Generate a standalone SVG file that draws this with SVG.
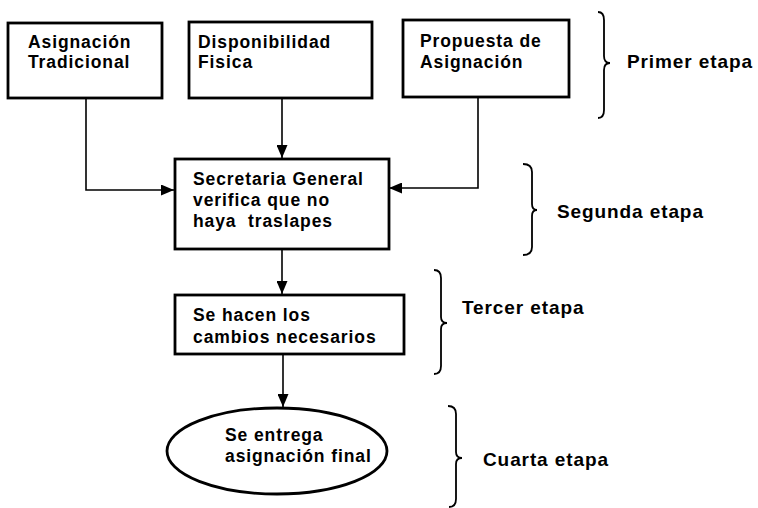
<svg xmlns="http://www.w3.org/2000/svg" width="758" height="508" viewBox="0 0 758 508">
<style>
.box{fill:#fff;stroke:#000;stroke-width:2.8}
.t{font-family:"Liberation Sans",Arial,sans-serif;font-weight:bold;font-size:17.5px;letter-spacing:0.9px;fill:#000}
.lbl{font-family:"Liberation Sans",Arial,sans-serif;font-weight:bold;font-size:19px;letter-spacing:0.9px;fill:#000}
.c{fill:none;stroke:#000;stroke-width:1.6}
.br{fill:none;stroke:#000;stroke-width:1.8}
</style>
<defs>
<marker id="ah" viewBox="0 0 13 11" refX="13" refY="5.5" markerWidth="13" markerHeight="11" markerUnits="userSpaceOnUse" orient="auto">
<path d="M0,0 L13,5.5 L0,11 Z" fill="#000"/>
</marker>
</defs>
<rect width="758" height="508" fill="#fff"/>
<g id="connectors">
<path class="c" d="M86,98 V190 H174" marker-end="url(#ah)"/>
<path class="c" d="M282,98 V158" marker-end="url(#ah)"/>
<path class="c" d="M478,97 V188 H389" marker-end="url(#ah)"/>
<path class="c" d="M282,249 V294" marker-end="url(#ah)"/>
<path class="c" d="M283,354 V407" marker-end="url(#ah)"/>
</g>
<g id="n1"><rect class="box" x="8" y="23" width="154" height="75"/>
<text class="t" x="28" y="48">Asignación</text><text class="t" x="28" y="68">Tradicional</text></g>
<g id="n2"><rect class="box" x="189" y="22" width="183" height="76"/>
<text class="t" x="198" y="48">Disponibilidad</text><text class="t" x="198" y="68">Fisica</text></g>
<g id="n3"><rect class="box" x="403" y="20" width="166" height="77"/>
<text class="t" x="420" y="47">Propuesta de</text><text class="t" x="420" y="68">Asignación</text></g>
<g id="n4"><rect class="box" x="175" y="159" width="214" height="90"/>
<text class="t" x="193" y="185">Secretaria General</text><text class="t" x="193" y="206">verifica que no</text><text class="t" x="193" y="227" xml:space="preserve">haya  traslapes</text></g>
<g id="n5"><rect class="box" x="175" y="295" width="229" height="59"/>
<text class="t" x="193" y="321">Se hacen los</text><text class="t" x="193" y="343">cambios necesarios</text></g>
<g id="n6"><ellipse class="box" cx="277" cy="451" rx="110" ry="43"/>
<text class="t" x="225" y="441">Se entrega</text><text class="t" x="225" y="462">asignación final</text></g>
<g id="stages">
<path class="br" d="M598,12 Q604,12 604,20 L604,56 Q604,63 610,63 Q604,63 604,70 L604,110 Q604,118 598,118"/>
<text class="lbl" x="627" y="68">Primer etapa</text>
<path class="br" d="M523,164 Q532,164 532,172 L532,204 Q532,210 537,210 Q532,210 532,216 L532,247 Q532,255 523,255"/>
<text class="lbl" x="557" y="218">Segunda etapa</text>
<path class="br" d="M434,270 Q441,270 441,278 L441,317 Q441,323 447,323 Q441,323 441,329 L441,366 Q441,374 434,374"/>
<text class="lbl" x="462" y="314">Tercer etapa</text>
<path class="br" d="M448,406 Q456,406 456,414 L456,452 Q456,458 462,458 Q456,458 456,464 L456,499 Q456,507 449,507"/>
<text class="lbl" x="483" y="466">Cuarta etapa</text>
</g>
</svg>
